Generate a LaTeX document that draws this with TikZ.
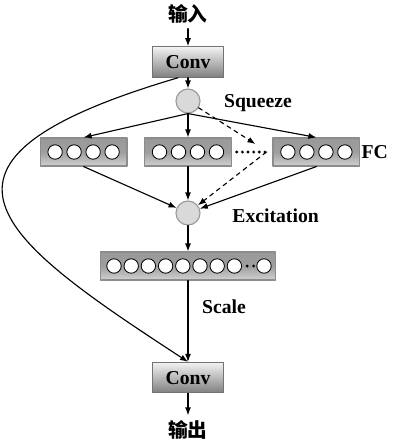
\documentclass[tikz,border=0pt]{standalone}
\usepackage{fontspec}
\setmainfont{Liberation Serif}
\newfontfamily\cjk{Noto Sans CJK SC}
\usetikzlibrary{arrows.meta}
\tikzset{
convbox/.style={draw=black!55,top color=black!5,bottom color=black!50,minimum width=1.78cm,minimum height=0.76cm,font=\fontsize{14}{16}\selectfont\bfseries},
fcbox/.style={draw=black!45,top color=black!40,bottom color=black!18,middle color=black!38,minimum width=2.17cm,minimum height=0.7cm},
longbox/.style={fcbox,minimum width=4.37cm},
ball/.style={circle,draw=black!40,fill=black!15,minimum size=0.6cm,inner sep=0pt},
cell/.style={draw,fill=white,line width=0.6pt},
lab/.style={font=\fontsize{14}{16}\selectfont\bfseries}
}
\begin{document}
\begin{tikzpicture}[>={Latex[length=2mm,width=1.5mm]},line cap=round,line join=round,line width=0.8pt]
\useasboundingbox (0,0) rectangle (9.85,-11.1);
\path(4.7,-0.35)node[lab](in){\cjk\bfseries 输入}
++(0,-1.2)node[convbox](c1){Conv} ++(0,-0.975)node[ball](sq){}
++(0,-1.275)node[fcbox](fb){} (fb)++(-2.61,0)node[fcbox](fa){} (fb)++(3.21,0)node[fcbox](fc){}
(fb)++(0,-1.525)node[ball](ex){} ++(0,-1.325)node[longbox](lb){}
++(0,-2.79)node[convbox](c2){Conv} ++(0,-1.31)node[lab](out){\cjk\bfseries 输出}
;
% labels
\path(sq)++(1.75,-0.05)node[lab](sqlab){Squeeze}
(fc)++(1.46,0)node[lab](fclab){FC}
(ex)++(2.19,-0.075)node[lab](exlab){Excitation}
(lb)++(0.9,-1.025)node[lab](sclab){Scale};
% cells
\foreach \b in {fa,fb,fc}
 \foreach \i in {-1.5,-0.5,0.5,1.5}
  \draw[cell]([xshift=\i*4.75mm]\b.center)circle(1.8mm);
\foreach \k in {0,...,7}
 \draw[cell]([xshift=-18.5mm+\k*4.3mm]lb.center)circle(1.8mm);
\draw[cell]([xshift=19mm]lb.center)circle(1.8mm);
\fill([xshift=14.8mm]lb.center)circle(1.1pt) ([xshift=16.4mm]lb.center)circle(1.1pt);
\coordinate(dR)at([xshift=-1.5mm]fc.west);
\coordinate(dT)at([xshift=-4.25mm,yshift=2mm]fc.west);
\draw[line width=2.3pt,dash pattern=on 0pt off 4pt]([xshift=1.2mm]fb.east)--(dR);
% arrows
\draw[->](in)--(c1); \draw[->](c1)--(sq);
\draw[->](sq.south)--(fa.north); \draw[->](sq.south)--(fb.north); \draw[->](sq.south)--(fc.north);
\draw[->,dashed](sq)--(dT); \draw[->,dashed](dR)--(ex);
\draw[->](fa.south)--(ex); \draw[->](fb)--(ex); \draw[->](fc.south)--(ex);
\draw[->](ex)--(lb); \draw[->](lb)--(c2); \draw[->](c2)--(out);
\draw[->]([xshift=-2.5mm]c1.south) .. controls (-2.67,-4.04) and (-0.03,-5.96) .. (c2.north);
\end{tikzpicture}
\end{document}
